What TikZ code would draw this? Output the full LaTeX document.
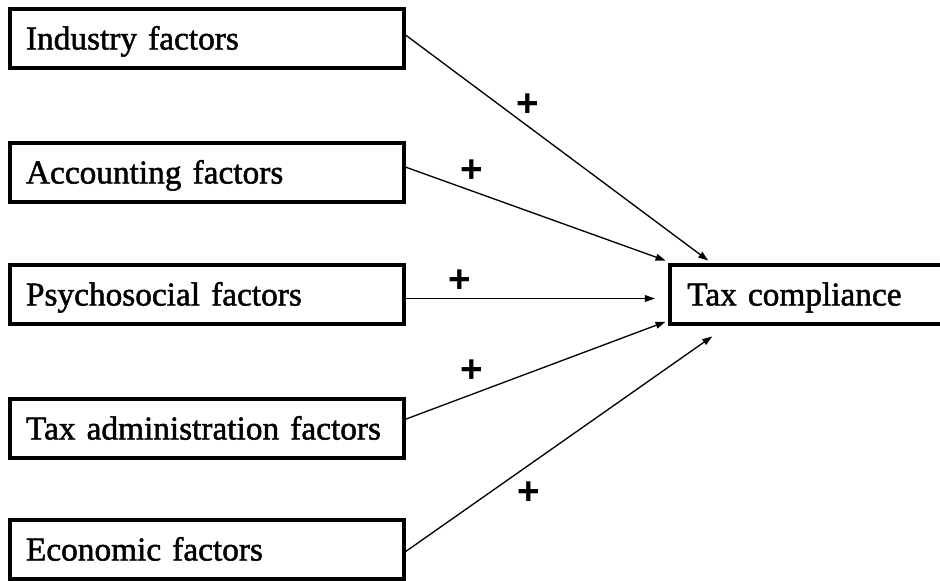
\documentclass[tikz,border=0pt]{standalone}
\usepackage{fontspec}
\setmainfont{Liberation Serif}
\newfontfamily\boxfont{Liberation Serif}[FakeBold=1.5]
\newfontfamily\signfont{Liberation Sans}
\usetikzlibrary{arrows.meta}

\begin{document}
\begin{tikzpicture}[x=0.75pt, y=0.75pt,
    factor/.style={draw, line width=2.6pt, minimum width=295.5pt, minimum height=44.25pt,
        inner xsep=12pt, text width=271.5pt, align=left, text height=22pt, text depth=5.5pt,
        font=\boxfont\fontsize{25}{30}\selectfont},
    outcome/.style={factor, minimum width=204pt, inner xsep=13pt, text width=178pt},
    sign/.style={font=\signfont\bfseries\fontsize{29}{29}\selectfont, inner sep=0pt},
    link/.style={-{Triangle[length=7.5pt, width=5pt]}, line width=1pt}]
    \useasboundingbox (0,0) rectangle (940,581);

    % Boxes
    \node [factor] (ind) at (207,542.5) {Industry factors};
    \node [factor] (acc) at (207,408.5) {Accounting factors};
    \node [factor] (psy) at (207,286.5) {Psychosocial factors};
    \node [factor] (tax) at (207,152.5) {Tax administration factors};
    \node [factor] (eco) at (207,31.5) {Economic factors};
    \node [outcome] (tc) at (806,286.5) {Tax compliance};

    % Arrows
    \draw [link] ([yshift=2.5pt]ind.east) -- ([xshift=30pt, yshift=2pt]tc.north west);
    \draw [link] ([yshift=4pt]acc.east) -- ([xshift=-2pt, yshift=2pt]tc.north west);
    \draw [link] ([yshift=-3pt]psy.east) -- ([xshift=-10pt, yshift=-3pt]tc.west);
    \draw [link] ([yshift=7pt]tax.east) -- ([xshift=-2pt, yshift=3pt]tc.south west);
    \draw [link] ([yshift=-1.5pt]eco.east) -- ([xshift=33pt, yshift=-8pt]tc.south west);

    % Signs
    \node [sign] (p1) at (528,476) {+};
    \node [sign] (p2) at (472,410) {+};
    \node [sign] (p3) at (460,300) {+};
    \node [sign] (p4) at (472,210) {+};
    \node [sign] (p5) at (529,88) {+};
\end{tikzpicture}
\end{document}
